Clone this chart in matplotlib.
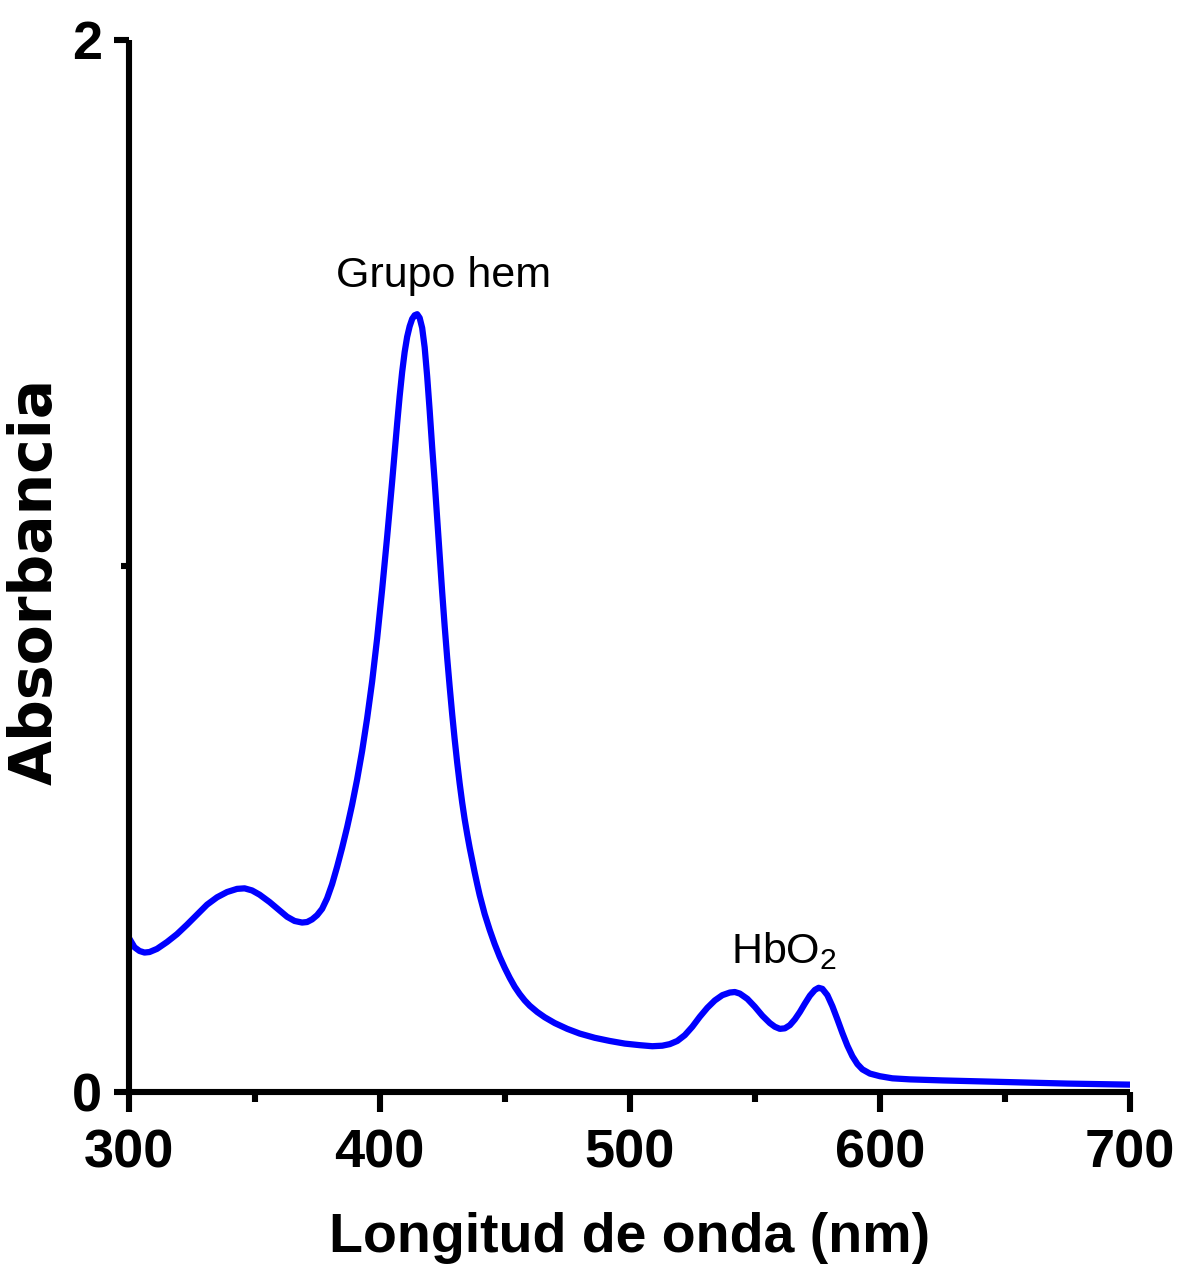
import matplotlib
matplotlib.use("Agg")
import matplotlib.pyplot as plt
from matplotlib import font_manager
from matplotlib.ticker import MultipleLocator

# Absorption spectrum of oxyhemoglobin
wavelength_nm = [
    300, 302, 304, 306, 308, 311, 315, 319, 323, 327, 331, 335, 339, 343, 346,
    349, 352, 356, 360, 363, 366, 369, 371, 373, 375, 377, 379, 381, 383, 385,
    387, 389, 391, 393, 395, 397, 399, 401, 403, 405, 407, 408, 409, 410, 411,
    412, 413, 414, 415, 416, 417, 418, 419, 420, 421, 422, 423, 424, 425, 426,
    427, 428, 429, 430, 431, 432, 433, 434, 435, 436, 437, 438, 439, 440, 442,
    444, 446, 448, 450, 452, 454, 456, 458, 460, 463, 466, 470, 475, 480, 486,
    492, 498, 504, 509, 513, 516, 519, 522, 525, 528, 531, 534, 537, 540, 542,
    544, 547, 550, 553, 556, 558, 560, 562, 564, 566, 568, 570, 572, 574, 575.5,
    577, 579, 581, 583, 585, 587, 589, 591, 593, 596, 600, 605, 612, 625, 650,
    675, 700,
]
absorbance = [
    0.291, 0.275, 0.268, 0.265, 0.266, 0.272, 0.285, 0.300, 0.318, 0.337,
    0.356, 0.370, 0.380, 0.386, 0.387, 0.383, 0.375, 0.361, 0.345, 0.333,
    0.325, 0.322, 0.323, 0.328, 0.336, 0.348, 0.368, 0.395, 0.428, 0.464,
    0.503, 0.546, 0.594, 0.648, 0.710, 0.780, 0.862, 0.955, 1.055, 1.160,
    1.270, 1.322, 1.368, 1.406, 1.435, 1.455, 1.469, 1.476, 1.478, 1.471,
    1.452, 1.415, 1.360, 1.295, 1.225, 1.160, 1.090, 1.020, 0.950, 0.885,
    0.825, 0.770, 0.718, 0.670, 0.626, 0.586, 0.550, 0.518, 0.490, 0.464,
    0.440, 0.417, 0.395, 0.374, 0.338, 0.308, 0.281, 0.257, 0.236, 0.217,
    0.200, 0.186, 0.174, 0.164, 0.152, 0.142, 0.131, 0.120, 0.111, 0.103,
    0.097, 0.092, 0.089, 0.087, 0.088, 0.091, 0.097, 0.108, 0.124, 0.143,
    0.160, 0.174, 0.184, 0.189, 0.190, 0.187, 0.177, 0.162, 0.145, 0.131,
    0.124, 0.120, 0.121, 0.127, 0.138, 0.152, 0.168, 0.183, 0.194, 0.198,
    0.196, 0.184, 0.163, 0.138, 0.112, 0.088, 0.068, 0.053, 0.043, 0.035,
    0.030, 0.026, 0.024, 0.022, 0.019, 0.016, 0.014,
]

x_ticks = [300, 400, 500, 600, 700]
y_ticks = [0, 2]
peak_labels = ["Grupo hem", "HbO$_\\mathregular{2}$"]
peak_label_pos = [(425.6, 1.530), (540.6, 0.245)]
peak_label_ha = ["center", "left"]


def pick_font(candidates):
    for name in candidates:
        try:
            font_manager.findfont(font_manager.FontProperties(family=name),
                                  fallback_to_default=False)
            return name
        except Exception:
            continue
    return "DejaVu Sans"


narrow = pick_font(["Liberation Sans Narrow", "Arial Narrow", "Liberation Sans"])
wide = "DejaVu Sans"

fig = plt.figure(figsize=(11.91, 12.73), dpi=100)
ax = fig.add_axes([0.10873, 0.14218, 0.8401, 0.82679])

ax.plot(wavelength_nm, absorbance, color="#0000ff", lw=4.5,
        solid_joinstyle="round", solid_capstyle="round")

ax.set_xlim(300, 700)
ax.set_ylim(0, 2)

for side in ("top", "right"):
    ax.spines[side].set_visible(False)
for side in ("left", "bottom"):
    ax.spines[side].set_linewidth(4.4)
    ax.spines[side].set_capstyle("butt")

ax.set_xticks(x_ticks)
ax.xaxis.set_minor_locator(MultipleLocator(50))
ax.set_yticks(y_ticks)
ax.yaxis.set_minor_locator(MultipleLocator(1))

ax.tick_params(axis="x", which="major", length=14.4, width=4.4, pad=12)
ax.tick_params(axis="x", which="minor", length=7.2, width=4.4)
ax.tick_params(axis="y", which="major", length=11, width=4.4, pad=9)
ax.tick_params(axis="y", which="minor", length=6, width=4.4)

for lab in ax.get_xticklabels() + ax.get_yticklabels():
    lab.set_fontfamily(narrow)
    lab.set_fontweight("bold")
    lab.set_fontsize(39)

ax.set_xlabel("Longitud de onda (nm)", fontfamily=narrow, fontweight="bold",
              fontsize=40, labelpad=24)
ax.set_ylabel("Absorbancia", fontfamily=wide, fontweight="bold", fontsize=42)
ax.yaxis.set_label_coords(-0.066, 0.485)

for text, (xv, yv), ha in zip(peak_labels, peak_label_pos, peak_label_ha):
    ax.text(xv, yv, text, fontfamily=narrow, fontsize=31, ha=ha,
            va="baseline", color="black")

fig.savefig("out.png", dpi=100)
